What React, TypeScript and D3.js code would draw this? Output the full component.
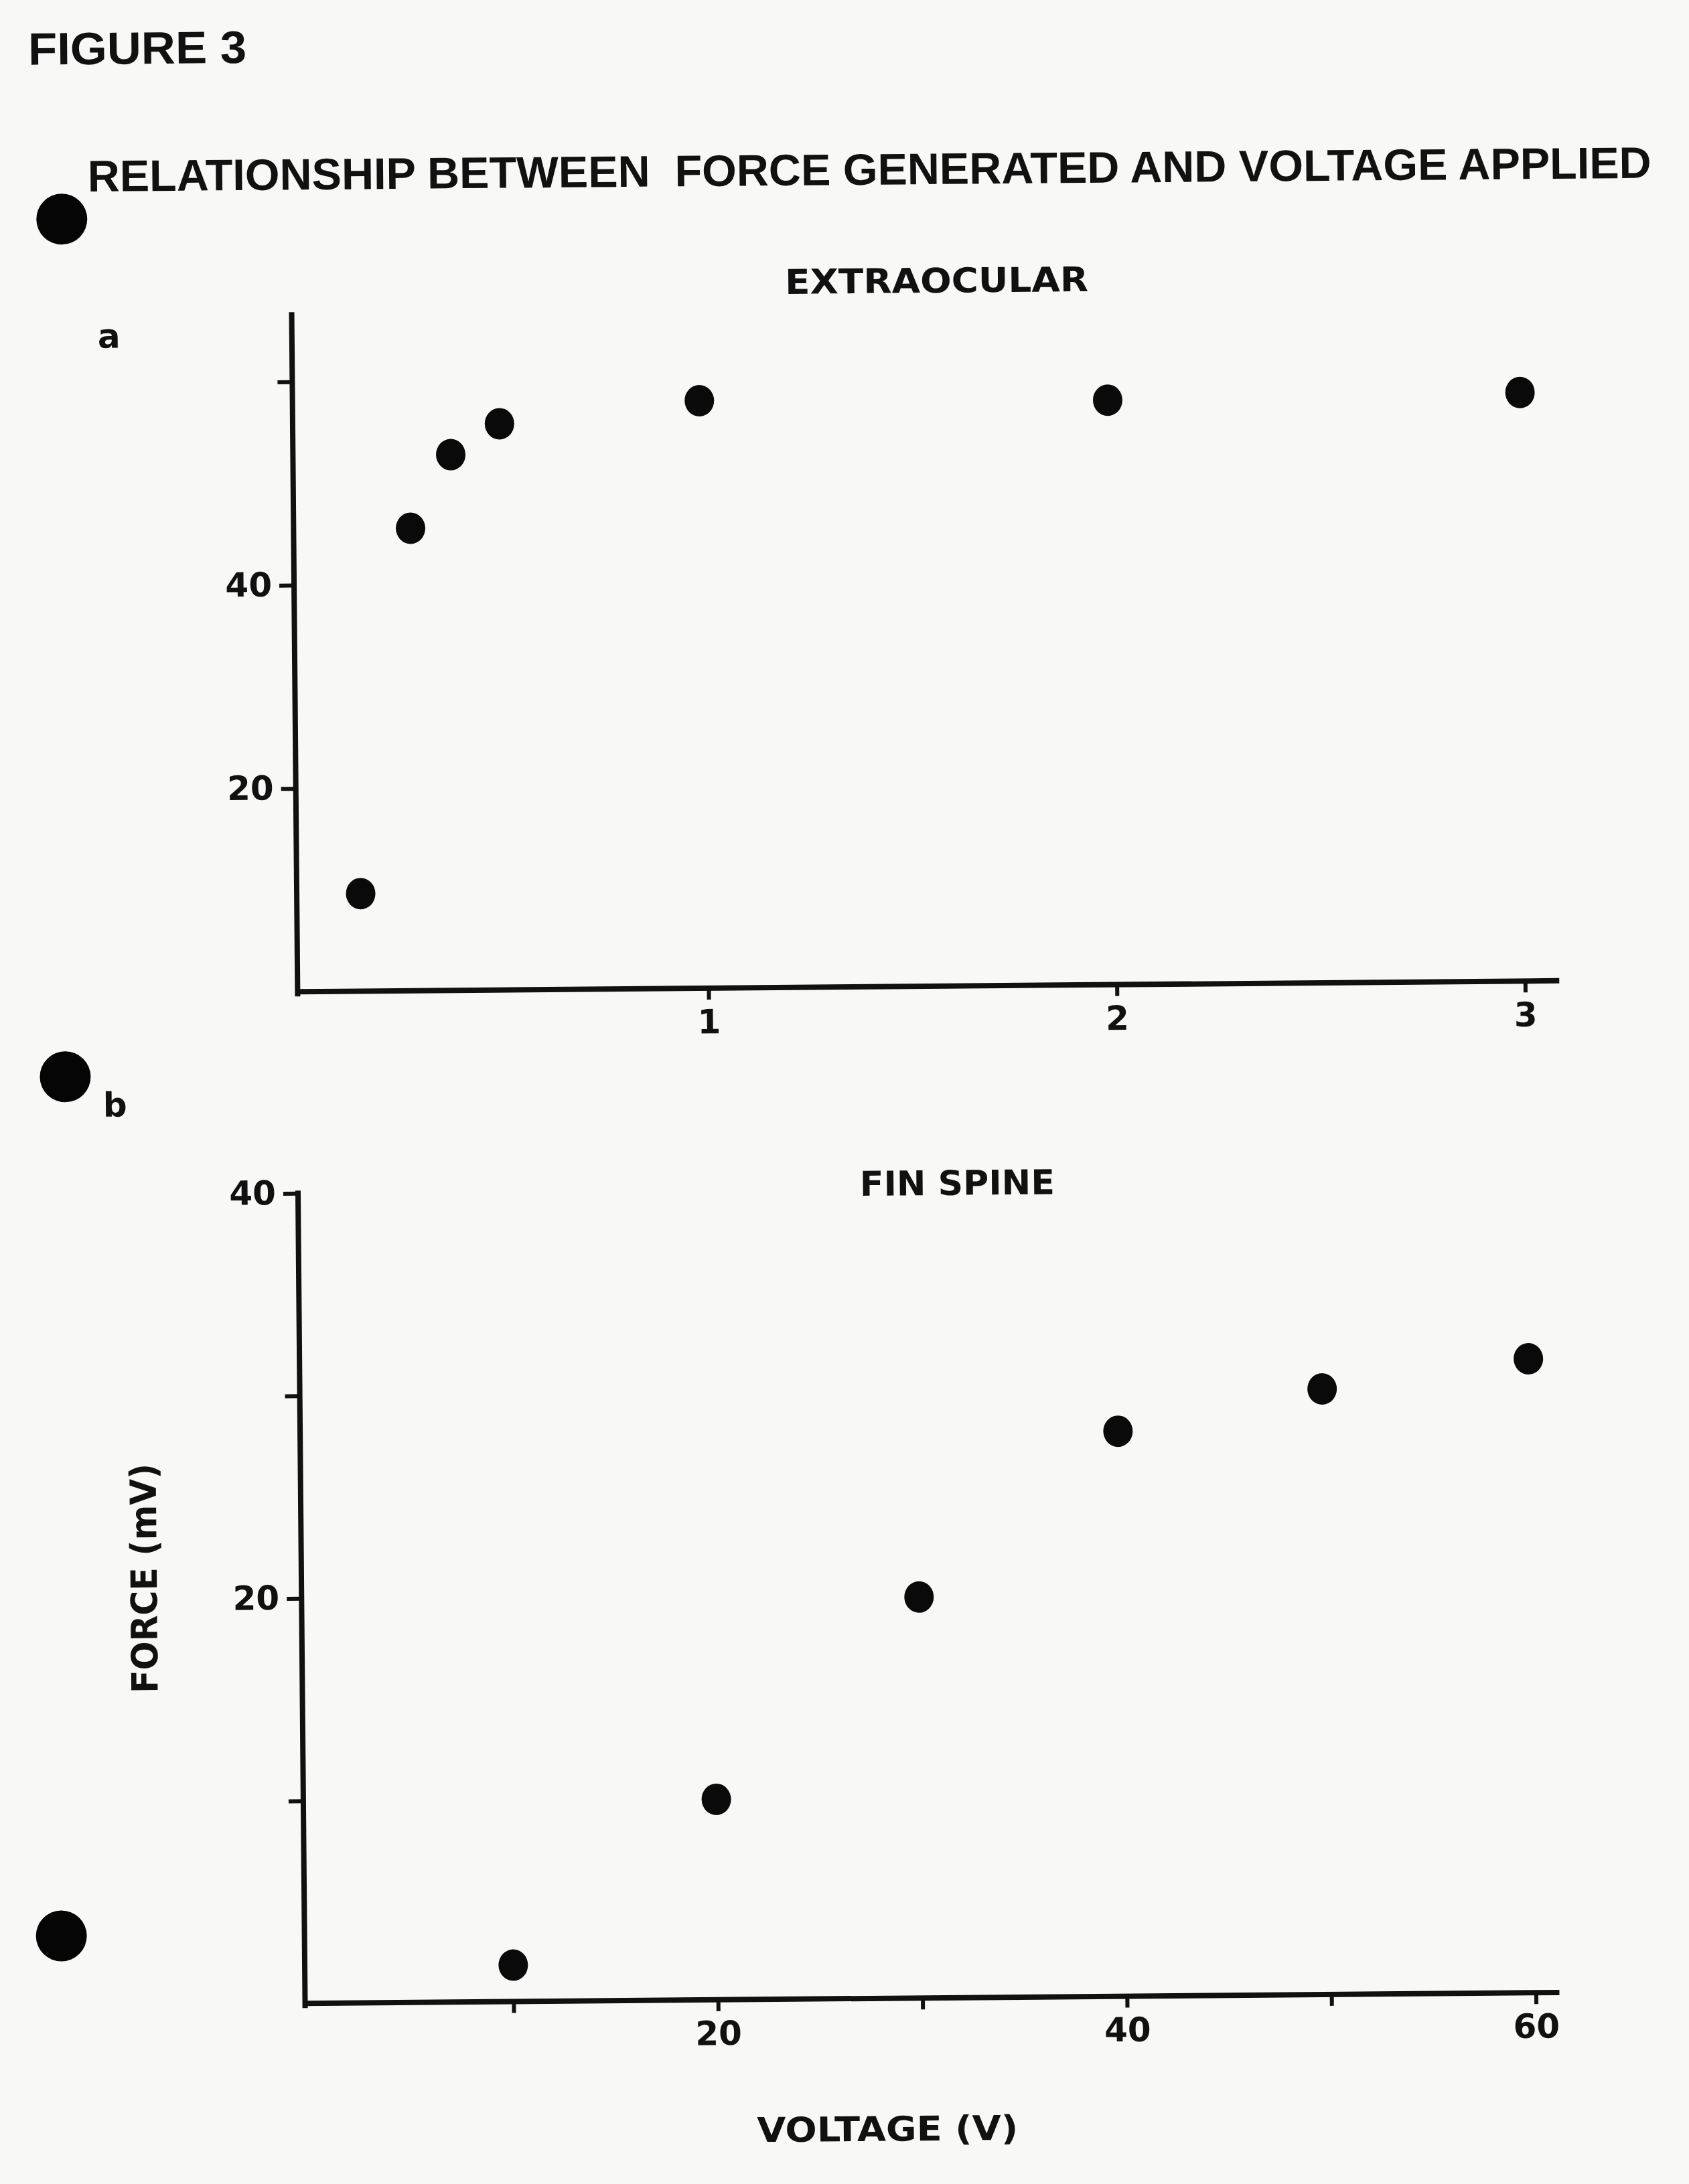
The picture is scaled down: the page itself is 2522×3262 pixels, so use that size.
import React, { useRef, useEffect } from "react"
import * as d3 from "d3"

// (a) extraocular muscle
const eyeVolts = [0.15, 0.28, 0.38, 0.5, 0.99, 1.99, 3.0]
const eyeForce = [9.6, 45.5, 52.7, 55.7, 57.8, 57.5, 57.9]
const eyeXTicks = [1, 2, 3]
const eyeXTickLabels = ["1", "2", "3"]
const eyeYTicks = [20, 40, 60]
const eyeYTickLabels = ["20", "40", ""]

// (b) fin spine
const finVolts = [10, 20, 30, 39.8, 49.8, 59.9]
const finForce = [1.8, 9.9, 19.8, 27.9, 29.9, 31.3]
const finXTicks = [10, 20, 30, 40, 50, 60]
const finXTickLabels = ["", "20", "", "40", "", "60"]
const finYTicks = [10, 20, 30, 40]
const finYTickLabels = ["", "20", "", "40"]

const W = 2522
const H = 3262
const INK = "#111"
const SANS = "'DejaVu Sans', Verdana, sans-serif"
const HELV = "'Liberation Sans', Arial, sans-serif"

export default function App() {
    const svgRef = useRef<SVGSVGElement>(null)

    useEffect(() => {
        if (!svgRef.current) return
        document.body.style.margin = "0"
        const svg = d3.select(svgRef.current)
        svg.selectAll("*").remove()

        svg.append("rect").attr("width", W).attr("height", H).attr("fill", "#f8f8f7")

        // the scanned sheet sits a little crooked
        const page = svg.append("g").attr("transform", "rotate(-0.5 1280 1780)")

        const text = (x: number, y: number, s: string, size: number, font: string, len?: number) => {
            const t = page.append("text")
                .attr("x", x)
                .attr("y", y)
                .attr("fill", INK)
                .attr("font-family", font)
                .attr("font-weight", "bold")
                .attr("font-size", size)
                .style("white-space", "pre")
                .text(s)
            if (len) t.attr("textLength", len).attr("lengthAdjust", "spacingAndGlyphs")
            return t
        }

        // headings
        text(57, 86, "FIGURE 3", 68, HELV, 326)
        text(144, 276, "RELATIONSHIP BETWEEN  FORCE GENERATED AND VOLTAGE APPLIED", 66, HELV, 2335)

        // punched holes
        const holes = [[105, 317], [99, 1598], [82, 2881]]
        page.selectAll("ellipse.hole")
            .data(holes)
            .join("ellipse")
            .attr("class", "hole")
            .attr("cx", d => d[0])
            .attr("cy", d => d[1])
            .attr("rx", 38)
            .attr("ry", 38)
            .attr("fill", "#050505")

        const drawPanel = (o: any) => {
            const g = page.append("g")
            const x = d3.scaleLinear().domain(o.xDomain).range(o.xRange)
            const y = d3.scaleLinear().domain(o.yDomain).range(o.yRange)
            const y0 = y(0)

            // axis lines
            g.append("line")
                .attr("x1", o.axisX).attr("x2", o.axisX)
                .attr("y1", y0 + 3).attr("y2", o.yTop)
                .attr("stroke", INK).attr("stroke-width", 8).attr("stroke-linecap", "square")
            g.append("line")
                .attr("x1", o.axisX).attr("x2", o.xEnd)
                .attr("y1", y0).attr("y2", y0)
                .attr("stroke", INK).attr("stroke-width", 8)

            const styleAxis = (ax: any) => {
                ax.select(".domain").remove()
                ax.selectAll("line").attr("stroke", INK).attr("stroke-width", 6)
                ax.selectAll("text")
                    .attr("fill", INK)
                    .attr("font-family", SANS)
                    .attr("font-weight", "bold")
                    .attr("font-size", 50)
            }

            const gx = g.append("g")
                .attr("transform", `translate(0,${y0})`)
                .call(d3.axisBottom(x)
                    .tickValues(o.xTicks)
                    .tickFormat((_d: any, i: number) => o.xLabels[i])
                    .tickSize(17)
                    .tickPadding(15))
            styleAxis(gx)

            const gy = g.append("g")
                .attr("transform", `translate(${o.axisX},0)`)
                .call(d3.axisLeft(y)
                    .tickValues(o.yTicks)
                    .tickFormat((_d: any, i: number) => o.yLabels[i])
                    .tickSize(22)
                    .tickPadding(11))
            styleAxis(gy)

            g.selectAll("ellipse.pt")
                .data(d3.zip(o.volts, o.force))
                .join("ellipse")
                .attr("class", "pt")
                .attr("cx", (d: any) => x(d[0]))
                .attr("cy", (d: any) => y(d[1]))
                .attr("rx", 22)
                .attr("ry", 23.5)
                .attr("fill", "#0a0a0a")
        }

        // panel a
        text(157, 510, "a", 50, SANS)
        text(1184, 438, "EXTRAOCULAR", 51, SANS, 453)
        drawPanel({
            xDomain: [0, 3], xRange: [451, 2280],
            yDomain: [0, 60], yRange: [1474, 563],
            axisX: 447, xEnd: 2331, yTop: 463,
            xTicks: eyeXTicks, xLabels: eyeXTickLabels,
            yTicks: eyeYTicks, yLabels: eyeYTickLabels,
            volts: eyeVolts, force: eyeForce,
        })

        // panel b
        text(155, 1658, "b", 50, SANS)
        text(1284, 1786, "FIN SPINE", 51, SANS, 291)
        drawPanel({
            xDomain: [0, 60], xRange: [451, 2283],
            yDomain: [0, 40], yRange: [2985, 1775],
            axisX: 445, xEnd: 2318, yTop: 1775,
            xTicks: finXTicks, xLabels: finXTickLabels,
            yTicks: finYTicks, yLabels: finYTickLabels,
            volts: finVolts, force: finForce,
        })

        // axis titles
        page.append("text")
            .attr("transform", "translate(229,2348) rotate(-90)")
            .attr("text-anchor", "middle")
            .attr("fill", INK)
            .attr("font-family", SANS)
            .attr("font-weight", "bold")
            .attr("font-size", 54)
            .attr("textLength", 343)
            .attr("lengthAdjust", "spacingAndGlyphs")
            .text("FORCE (mV)")
        text(1118, 3198, "VOLTAGE (V)", 51, SANS, 390)
    }, [])

    return (
        <svg
            ref={svgRef}
            width={W}
            height={H}
            style={{ position: "absolute", left: 0, top: 0, display: "block" }}
        />
    )
}
